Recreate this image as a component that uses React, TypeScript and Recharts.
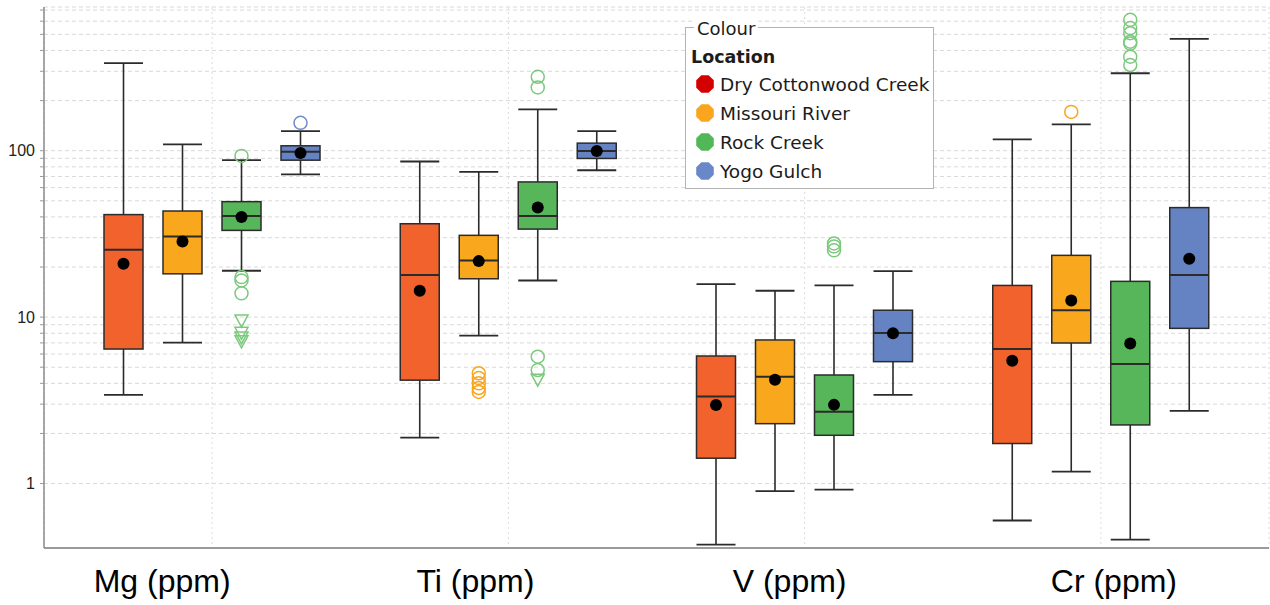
import React from 'react';
import { ComposedChart, Bar, XAxis, YAxis, CartesianGrid, Legend } from 'recharts';

// categories on the x axis
const elements = ['Mg (ppm)', 'Ti (ppm)', 'V (ppm)', 'Cr (ppm)'];

const locations = ['Dry Cottonwood Creek', 'Missouri River', 'Rock Creek', 'Yogo Gulch'];
const seriesKeys = ['dry', 'missouri', 'rock', 'yogo'];

// Dry Cottonwood Creek
const dryLow = [3.41, 1.89, 0.43, 0.6];
const dryQ1 = [6.43, 4.18, 1.42, 1.74];
const dryMedian = [25.4, 17.9, 3.33, 6.43];
const dryQ3 = [41.3, 36.4, 5.84, 15.5];
const dryHigh = [336, 86.1, 15.8, 117];
const dryMean = [20.9, 14.4, 2.96, 5.47];
const dryOutliers: number[][] = [[], [], [], []];
const dryFar: number[][] = [[], [], [], []];

// Missouri River
const missouriLow = [7.02, 7.74, 0.9, 1.18];
const missouriQ1 = [18.2, 17.0, 2.29, 6.99];
const missouriMedian = [30.5, 21.9, 4.38, 11.0];
const missouriQ3 = [43.4, 31.0, 7.29, 23.5];
const missouriHigh = [109, 74.5, 14.4, 144];
const missouriMean = [28.5, 21.7, 4.2, 12.6];
const missouriOutliers = [[], [4.6, 4.3, 4.0, 3.75, 3.55], [], [171]];
const missouriFar: number[][] = [[], [], [], []];

// Rock Creek
const rockLow = [19.0, 16.6, 0.92, 0.46];
const rockQ1 = [33.2, 33.8, 1.95, 2.25];
const rockMedian = [40.5, 40.5, 2.7, 5.22];
const rockQ3 = [49.4, 64.9, 4.49, 16.4];
const rockHigh = [87.7, 177, 15.5, 292];
const rockMean = [39.9, 45.5, 2.97, 6.95];
const rockOutliers = [
  [93, 17.4, 16.6, 13.9],
  [278, 240, 5.78, 4.81],
  [27.7, 26.6, 25.2],
  [611, 545, 508, 452, 440, 367, 327],
];
const rockFar = [[9.6, 8.1, 7.6, 7.2], [4.24], [], []];

// Yogo Gulch
const yogoLow = [72.1, 76.3, 3.41, 2.73];
const yogoQ1 = [87.7, 89.8, 5.4, 8.56];
const yogoMedian = [98.4, 99.7, 8.03, 17.9];
const yogoQ3 = [107, 111, 11.0, 45.5];
const yogoHigh = [131, 131, 18.9, 470];
const yogoMean = [97, 99.7, 8.0, 22.4];
const yogoOutliers = [[147], [], [], []];
const yogoFar: number[][] = [[], [], [], []];

const yTicks = [1, 2, 3, 4, 5, 6, 7, 8, 9, 10, 20, 30, 40, 50, 60, 70, 80, 90, 100, 200, 300, 400, 500, 600, 700];

const boxColors: Record<string, string> = { dry: '#f1622d', missouri: '#f9a81e', rock: '#57b65a', yogo: '#6583c3' };
const outlierColors: Record<string, string> = { dry: '#f1622d', missouri: '#f9a61e', rock: '#7cc97e', yogo: '#6e8bcb' };
const legendColors = ['#d40000', '#f9a61e', '#52b756', '#6a87c8'];

const stats: Record<string, any> = {
  dry: { low: dryLow, q1: dryQ1, median: dryMedian, q3: dryQ3, high: dryHigh, mean: dryMean, out: dryOutliers, far: dryFar },
  missouri: { low: missouriLow, q1: missouriQ1, median: missouriMedian, q3: missouriQ3, high: missouriHigh, mean: missouriMean, out: missouriOutliers, far: missouriFar },
  rock: { low: rockLow, q1: rockQ1, median: rockMedian, q3: rockQ3, high: rockHigh, mean: rockMean, out: rockOutliers, far: rockFar },
  yogo: { low: yogoLow, q1: yogoQ1, median: yogoMedian, q3: yogoQ3, high: yogoHigh, mean: yogoMean, out: yogoOutliers, far: yogoFar },
};

const data = elements.map((element, i) => {
  const row: any = { element };
  seriesKeys.forEach((k) => {
    const s = stats[k];
    row[k] = [s.low[i], s.high[i]];
    row[k + 'Stats'] = {
      low: s.low[i], q1: s.q1[i], median: s.median[i], q3: s.q3[i], high: s.high[i],
      mean: s.mean[i], out: s.out[i], far: s.far[i],
    };
  });
  return row;
});

const LINE = '#2b2b2b';

// the bar covers low..high whisker range; other values are placed on the same log scale
const BoxShape = (props: any) => {
  const { x, y, width, height, payload, seriesKey } = props;
  const s = payload[seriesKey + 'Stats'];
  const top = Math.min(y, y + height);
  const bottom = Math.max(y, y + height);
  const lh = Math.log10(s.high);
  const ll = Math.log10(s.low);
  const py = (v: number) => top + ((lh - Math.log10(v)) / (lh - ll)) * (bottom - top);
  const cx = x + width / 2;
  const color = boxColors[seriesKey];
  const oc = outlierColors[seriesKey];
  return (
    <g>
      <line x1={cx} x2={cx} y1={py(s.high)} y2={py(s.low)} stroke={LINE} strokeWidth={1.6} />
      <line x1={x} x2={x + width} y1={py(s.high)} y2={py(s.high)} stroke={LINE} strokeWidth={1.8} />
      <line x1={x} x2={x + width} y1={py(s.low)} y2={py(s.low)} stroke={LINE} strokeWidth={1.8} />
      <rect x={x} y={py(s.q3)} width={width} height={py(s.q1) - py(s.q3)} fill={color} stroke={LINE} strokeWidth={1.5} />
      <line x1={x} x2={x + width} y1={py(s.median)} y2={py(s.median)} stroke={LINE} strokeWidth={2} />
      <circle cx={cx} cy={py(s.mean)} r={6} fill="#000" />
      {s.out.map((v: number, j: number) => (
        <circle key={'o' + j} cx={cx} cy={py(v)} r={6.5} fill="none" stroke={oc} strokeWidth={1.5} />
      ))}
      {s.far.map((v: number, j: number) => {
        const c = py(v);
        return (
          <polygon key={'f' + j} points={`${cx - 6.5},${c - 5} ${cx + 6.5},${c - 5} ${cx},${c + 7}`} fill="none" stroke={oc} strokeWidth={1.5} />
        );
      })}
    </g>
  );
};

const LABEL_NUDGE = [-50, -33, -15, 13];

const ElementTick = (props: any) => {
  const { x, y, payload, index } = props;
  return (
    <text x={x + LABEL_NUDGE[index]} y={y + 42} textAnchor="middle" fontSize={32} fontFamily="Liberation Sans, Arial, sans-serif" fill="#000">
      {payload.value}
    </text>
  );
};

const octagon = (r: number, c: number) =>
  Array.from({ length: 8 }, (_, k) => {
    const a = (Math.PI / 8) + (k * Math.PI) / 4;
    return `${c + r * Math.cos(a)},${c + r * Math.sin(a)}`;
  }).join(' ');

const LegendBox = ({ payload }: any) => (
  <div style={{ position: 'relative', width: 249, height: 162, border: '1px solid #b3b3b3', boxSizing: 'border-box', background: '#fff', fontFamily: 'DejaVu Sans, sans-serif', color: '#1c1c1c' }}>
    <div style={{ position: 'absolute', left: 8, top: -9, background: '#fff', padding: '0 3px', fontSize: 18, lineHeight: '20px' }}>Colour</div>
    <div style={{ position: 'absolute', left: 5, top: 18, fontSize: 17.5, fontWeight: 'bold', lineHeight: '22px' }}>Location</div>
    {(payload || []).map((entry: any, i: number) => (
      <div key={entry.value} style={{ position: 'absolute', left: 9, top: 45 + i * 29, height: 22, display: 'flex', alignItems: 'center', whiteSpace: 'nowrap' }}>
        <svg width={20} height={20}>
          <polygon points={octagon(9.5, 10)} fill={legendColors[i]} />
        </svg>
        <span style={{ marginLeft: 5, fontSize: 18.5 }}>{entry.value}</span>
      </div>
    ))}
  </div>
);

export default function App() {
  return (
    <div style={{ position: 'absolute', left: 0, top: 0, width: 1270, height: 605, background: '#fff' }}>
      <ComposedChart width={1270} height={605} data={data} margin={{ top: 7, right: 1, left: 0, bottom: 0 }} barSize={39} barGap={20}>
        <CartesianGrid horizontal vertical={false} stroke="#d9d9d9" strokeDasharray="4 3" />
        <CartesianGrid horizontal={false} vertical stroke="#dcdcdc" strokeDasharray="2 3" />
        <XAxis
          dataKey="element"
          type="category"
          padding={{ left: 20, right: 20 }}
          height={57}
          tickLine={false}
          tickSize={0}
          axisLine={{ stroke: '#9a9a9a', strokeWidth: 2 }}
          tick={<ElementTick />}
          interval={0}
        />
        <XAxis xAxisId="top" orientation="top" dataKey="element" height={0} tick={false} tickLine={false} axisLine={{ stroke: '#b5b5b5' }} />
        <YAxis
          scale="log"
          type="number"
          domain={[0.41, 730]}
          allowDataOverflow
          ticks={yTicks}
          interval={0}
          width={44}
          tickSize={4}
          tickMargin={5}
          tickFormatter={(v: number) => (v === 1 || v === 10 || v === 100 ? String(v) : '')}
          tick={{ fontSize: 16, fill: '#222', fontFamily: 'Liberation Sans, Arial, sans-serif' }}
          tickLine={{ stroke: '#999' }}
          axisLine={{ stroke: '#8a8a8a', strokeWidth: 1.5 }}
        />
        <YAxis yAxisId="right" orientation="right" type="number" domain={[0, 1]} width={0} tick={false} tickLine={false} axisLine={{ stroke: '#bdbdbd' }} />
        <Legend
          layout="vertical"
          align="center"
          verticalAlign="middle"
          content={<LegendBox />}
          wrapperStyle={{ position: 'absolute', left: 685, top: 27, width: 249, height: 162 }}
        />
        {seriesKeys.map((k, i) => (
          <Bar
            key={k}
            dataKey={k}
            name={locations[i]}
            fill={boxColors[k]}
            isAnimationActive={false}
            shape={(p: any) => <BoxShape {...p} seriesKey={k} />}
          />
        ))}
      </ComposedChart>
    </div>
  );
}
